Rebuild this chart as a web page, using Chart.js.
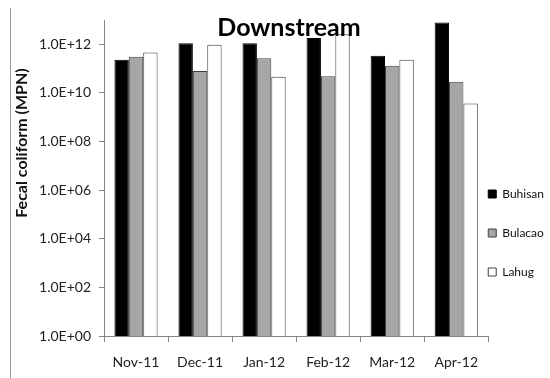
<!DOCTYPE html>
<html lang="en">
<head>
  <meta charset="UTF-8">
  <title>Downstream</title>
  <script src="https://cdn.jsdelivr.net/npm/chart.js"></script>
  <style>
    body { margin: 0; background: #fff; }
    #wrap { position: relative; width: 550px; height: 378px; }
    #wrap canvas { position: absolute; left: 0; top: 0; }
    #edge { position: absolute; left: 10px; top: 8px; bottom: 0; border-left: 1px solid #9a9a9a; }
  </style>
</head>
<body>
  <div id="wrap">
    <canvas id="chart" width="550" height="378"></canvas>
    <div id="edge"></div>
  </div>

  <script>
    const chartTitle = 'Downstream';
    const yTitle = 'Fecal coliform (MPN)';
    const months = ['Nov-11', 'Dec-11', 'Jan-12', 'Feb-12', 'Mar-12', 'Apr-12'];

    // fecal coliform, MPN
    const buhisan = [2.3e11, 1.1e12, 1.1e12, 1.8e12, 3.4e11, 7.8e12];
    const bulacao = [3.1e11, 8.0e10, 2.7e11, 4.9e10, 1.3e11, 2.85e10];
    const lahug   = [4.6e11, 9.7e11, 4.6e10, 2.6e12, 2.3e11, 3.7e9];

    const yTickValues = [1e0, 1e2, 1e4, 1e6, 1e8, 1e10, 1e12];
    const yTickLabels = ['1.0E+00', '1.0E+02', '1.0E+04', '1.0E+06', '1.0E+08', '1.0E+10', '1.0E+12'];

    Chart.defaults.font.family = 'Lato';
    Chart.defaults.font.size = 14;
    Chart.defaults.color = '#222';

    const axisGrey = '#868686';

    // titles sit over the plot like in the spreadsheet; legend hugs the bars
    const overlay = {
      id: 'overlay',
      afterLayout(chart) {
        const lg = chart.legend;
        const pad = lg.options.labels.padding;
        const w = lg.right - lg.left;
        const h = lg.bottom - lg.top;
        lg.left = chart.chartArea.right - pad;
        lg.right = lg.left + w;
        lg.top = 188 - pad;
        lg.bottom = lg.top + h;
      },
      afterDraw(chart) {
        const ctx = chart.ctx;
        ctx.save();
        ctx.fillStyle = '#000';
        ctx.textAlign = 'center';
        ctx.textBaseline = 'alphabetic';
        ctx.font = 'bold 25px Lato';
        ctx.fillText(chartTitle, 289, 36);

        ctx.translate(22, 143);
        ctx.rotate(-Math.PI / 2);
        ctx.textBaseline = 'middle';
        ctx.font = 'bold 16px Lato';
        ctx.fillStyle = '#111';
        ctx.fillText(yTitle, 0, 0);
        ctx.restore();
      }
    };

    const ctx = document.getElementById('chart').getContext('2d');

    new Chart(ctx, {
      type: 'bar',
      data: {
        labels: months,
        datasets: [
          { label: 'Buhisan', data: buhisan, backgroundColor: '#000', borderColor: '#000', borderWidth: 1 },
          { label: 'Bulacao', data: bulacao, backgroundColor: '#a6a6a6', borderColor: '#404040', borderWidth: 1 },
          { label: 'Lahug', data: lahug, backgroundColor: '#fff', borderColor: '#404040', borderWidth: 1 }
        ]
      },
      options: {
        responsive: false,
        animation: false,
        categoryPercentage: 0.674,
        barPercentage: 1,
        layout: { padding: { top: 20, left: 0, right: -31, bottom: 0 } },
        plugins: {
          legend: {
            position: 'right',
            align: 'start',
            labels: { boxWidth: 8, boxHeight: 8, padding: 27, color: '#111', font: { size: 12 } }
          },
          tooltip: { enabled: false }
        },
        scales: {
          x: {
            offset: true,
            grid: { offset: true, drawOnChartArea: false, drawTicks: true, tickLength: 6, color: axisGrey },
            border: { color: axisGrey },
            ticks: { padding: 12, maxRotation: 0 },
            afterFit(scale) { scale.height = 42; }
          },
          y: {
            type: 'logarithmic',
            min: 1,
            max: 1e13,
            afterBuildTicks(scale) {
              scale.ticks = yTickValues.map(v => ({ value: v }));
            },
            grid: { drawOnChartArea: false, drawTicks: true, tickLength: 5, color: axisGrey },
            border: { color: axisGrey },
            ticks: {
              padding: 8,
              callback: (value, index) => yTickLabels[index]
            },
            afterFit(scale) { scale.width = 104; }
          }
        }
      },
      plugins: [overlay]
    });
  </script>
</body>
</html>
